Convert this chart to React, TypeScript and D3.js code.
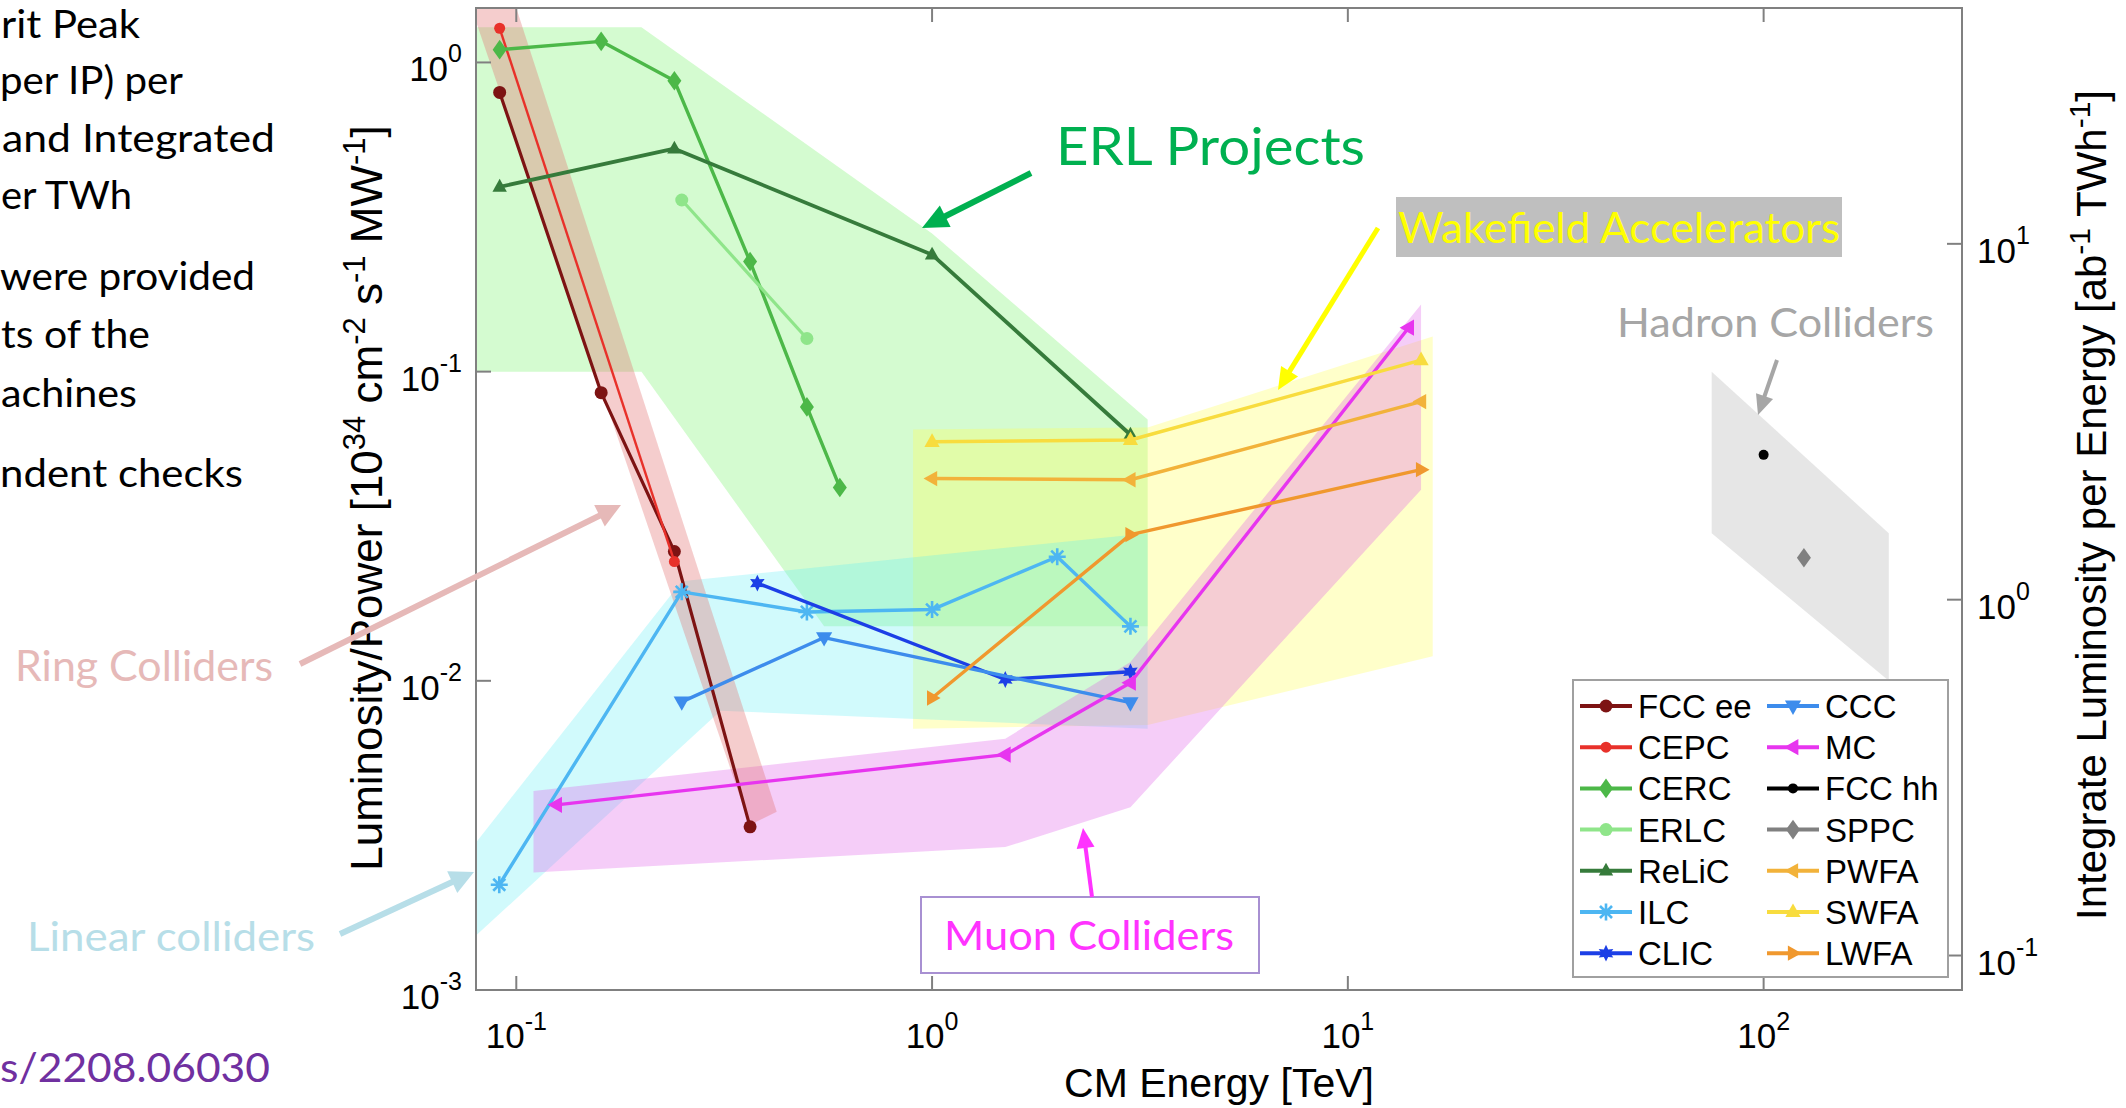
import React from 'react';
import * as d3 from 'd3';

// ---------------- data (CM energy [TeV], luminosity/power) ----------------
const FCC_EE = [[0.0912, 0.8], [0.16, 0.0855], [0.24, 0.0262], [0.365, 0.00337]];
const CEPC = [[0.0912, 1.29], [0.24, 0.0243]];
const CERC = [[0.0912, 1.1], [0.16, 1.17], [0.24, 0.873], [0.365, 0.227], [0.5, 0.0769], [0.6, 0.0422]];
const ERLC = [[0.25, 0.359], [0.5, 0.128]];
const RELIC = [[0.0912, 0.396], [0.24, 0.526], [1, 0.239], [3, 0.0625]];
const ILC = [[0.091, 0.00219], [0.25, 0.0194], [0.5, 0.0167], [1, 0.017], [2, 0.0252], [3, 0.015]];
const CLIC = [[0.38, 0.0207], [1.5, 0.0101], [3, 0.0107]];
const CCC = [[0.25, 0.00855], [0.55, 0.0138], [3, 0.0085]];
const MC = [[0.125, 0.00397], [1.5, 0.00577], [3, 0.00986], [14, 0.1387]];
const FCC_HH = [[100, 0.0538]];
const SPPC = [[125, 0.025]];
const PWFA = [[1, 0.0451], [3, 0.0447], [15, 0.08]];
const SWFA = [[1, 0.0593], [3, 0.0601], [15, 0.109]];
const LWFA = [[1, 0.0088], [3, 0.0297], [15, 0.0482]];

// shaded groups (polygon vertices in data units)
const ERL_REGION = [[0.08, 1.3], [0.2, 1.3], [1.0, 0.28], [3.3, 0.07], [3.3, 0.015], [0.55, 0.015], [0.2, 0.1], [0.08, 0.1]];
const WAKE_REGION = [[0.9, 0.065], [3.3, 0.066], [16, 0.13], [16, 0.012], [3.3, 0.0072], [0.9, 0.007]];
const LINEAR_REGION = [[0.08, 0.003], [0.25, 0.021], [3.3, 0.03], [3.3, 0.007], [0.31, 0.008], [0.08, 0.0015]];
const MUON_REGION = [[0.11, 0.0044], [1.5, 0.0065], [3, 0.0115], [15, 0.165], [15, 0.0415], [3, 0.0039], [1.5, 0.0029], [0.11, 0.0024]];
const RING_REGION = [[0.078, 1.5], [0.1, 1.5], [0.423, 0.00377], [0.364, 0.00342]];
const HADRON_REGION = [[75, 0.1], [200, 0.03], [200, 0.01], [75, 0.03]];

const X_TICKS = [0.1, 1, 10, 100];
const Y_TICKS = [0.001, 0.01, 0.1, 1];
const Y2_TICKS = [0.1, 1, 10];

const SERIES_NAMES = ['FCC ee', 'CEPC', 'CERC', 'ERLC', 'ReLiC', 'ILC', 'CLIC', 'CCC', 'MC', 'FCC hh', 'SPPC', 'PWFA', 'SWFA', 'LWFA'];
const SERIES_DATA = [FCC_EE, CEPC, CERC, ERLC, RELIC, ILC, CLIC, CCC, MC, FCC_HH, SPPC, PWFA, SWFA, LWFA];

const NOTE_LINES = ['rit Peak', 'per IP) per', 'and Integrated', 'er TWh', 'were provided', 'ts of the', 'achines', 'ndent checks'];

// ---------------- styles ----------------
const SERIES_STYLE = [
  { color: '#7d1313', marker: 'circle', ms: 6.5, lw: 3.2 },
  { color: '#e8312a', marker: 'circle', ms: 5.5, lw: 2.4 },
  { color: '#4cb848', marker: 'diamond', ms: 7, lw: 3.4 },
  { color: '#8fe58a', marker: 'circle', ms: 6.5, lw: 3.2 },
  { color: '#367b3b', marker: 'triUp', ms: 8, lw: 3.8 },
  { color: '#4db6f2', marker: 'asterisk', ms: 8.5, lw: 3.4 },
  { color: '#1c3fe6', marker: 'hexagram', ms: 8, lw: 3.4 },
  { color: '#3d8cec', marker: 'triDown', ms: 9, lw: 3.4 },
  { color: '#e735ef', marker: 'triLeft', ms: 9, lw: 3.4 },
  { color: '#000000', marker: 'circle', ms: 5, lw: 3.4 },
  { color: '#808080', marker: 'diamond', ms: 7, lw: 3.4 },
  { color: '#f2b23a', marker: 'triLeft', ms: 8.5, lw: 3.4 },
  { color: '#f8dc3e', marker: 'triUp', ms: 8.5, lw: 3.4 },
  { color: '#f0982e', marker: 'triRight', ms: 8.5, lw: 3.4 },
];

const NOTE_LAYOUT = [
  { x: 1, y: 38, len: 139 },
  { x: 0, y: 94, len: 183 },
  { x: 2, y: 152, len: 273 },
  { x: 1, y: 209, len: 131 },
  { x: 0, y: 290, len: 255 },
  { x: 1, y: 348, len: 149 },
  { x: 1, y: 407, len: 136 },
  { x: 0, y: 487, len: 243 },
];

const PL = 476, PR = 1962, PT = 8, PB = 990;
const AX_FONT = '"Liberation Sans", Arial, Helvetica, sans-serif';
const ANN_FONT = 'Lato, "Open Sans", sans-serif';

function Marker({ kind, cx, cy, s, color }: any) {
  if (kind === 'circle') return <circle cx={cx} cy={cy} r={s} fill={color} />;
  if (kind === 'diamond') {
    const w = s, h = s * 1.4;
    return <path d={`M${cx},${cy - h}L${cx + w},${cy}L${cx},${cy + h}L${cx - w},${cy}Z`} fill={color} />;
  }
  if (kind.startsWith('tri')) {
    const rot = { triUp: 0, triDown: 180, triLeft: -90, triRight: 90 }[kind as string] as number;
    const d = `M0,${-s}L${0.9 * s},${0.6 * s}L${-0.9 * s},${0.6 * s}Z`;
    return <path d={d} fill={color} transform={`translate(${cx},${cy}) rotate(${rot})`} />;
  }
  if (kind === 'asterisk') {
    const p: string[] = [];
    for (let k = 0; k < 4; k++) {
      const a = (k * Math.PI) / 4;
      const dx = Math.cos(a) * s, dy = Math.sin(a) * s;
      p.push(`M${cx - dx},${cy - dy}L${cx + dx},${cy + dy}`);
    }
    return <path d={p.join('')} stroke={color} strokeWidth={2.6} fill="none" />;
  }
  if (kind === 'hexagram') {
    const pts: string[] = [];
    for (let k = 0; k < 12; k++) {
      const a = -Math.PI / 2 + (k * Math.PI) / 6;
      const r = k % 2 === 0 ? s * 1.05 : s * 0.55;
      pts.push(`${cx + Math.cos(a) * r},${cy + Math.sin(a) * r}`);
    }
    return <path d={'M' + pts.join('L') + 'Z'} fill={color} />;
  }
  return null;
}

function Arrow({ x1, y1, x2, y2, color, w, L, hw }: any) {
  const dx = x2 - x1, dy = y2 - y1;
  const len = Math.hypot(dx, dy);
  const ux = dx / len, uy = dy / len;
  const nx = -uy, ny = ux;
  const bx = x2 - ux * L, by = y2 - uy * L;
  return (
    <g>
      <line x1={x1} y1={y1} x2={x2 - ux * L * 0.7} y2={y2 - uy * L * 0.7} stroke={color} strokeWidth={w} />
      <path d={`M${x2},${y2}L${bx + nx * hw},${by + ny * hw}L${bx - nx * hw},${by - ny * hw}Z`} fill={color} />
    </g>
  );
}

export default function App() {
  const x = d3.scaleLog().domain([0.08, 300]).range([PL, PR]);
  const y = d3.scaleLog().domain([1e-3, 1.5]).range([PB, PT]);
  const y2 = d3.scaleLog().domain([0.08, 46]).range([PB, PT]);
  const line = d3.line<number[]>().x((d) => x(d[0])).y((d) => y(d[1]));
  const poly = (pts: number[][]) => 'M' + pts.map((p) => `${x(p[0])},${y(p[1])}`).join('L') + 'Z';

  const regions = [
    { pts: ERL_REGION, fill: 'rgb(112,242,98)', op: 0.3 },
    { pts: WAKE_REGION, fill: 'rgb(255,255,80)', op: 0.3 },
    { pts: LINEAR_REGION, fill: 'rgb(90,236,245)', op: 0.28 },
    { pts: MUON_REGION, fill: 'rgb(222,88,232)', op: 0.3 },
    { pts: RING_REGION, fill: 'rgb(226,112,112)', op: 0.35 },
    { pts: HADRON_REGION, fill: 'rgb(128,128,128)', op: 0.2 },
  ];

  const exp = (v: number) => String(Math.round(Math.log10(v)));

  const legX = [1580, 1767];
  const legY0 = 706, legDY = 41.2;

  return (
    <svg width={2126} height={1108} style={{ position: 'absolute', left: 0, top: 0, display: 'block', background: '#fff' }}>
      <defs>
        <clipPath id="plotclip">
          <rect x={PL} y={PT} width={PR - PL} height={PB - PT} />
        </clipPath>
      </defs>
      <rect x={0} y={0} width={2126} height={1108} fill="#fff" />

      {/* left slide text */}
      {NOTE_LINES.map((t, i) => (
        <text key={i} x={NOTE_LAYOUT[i].x} y={NOTE_LAYOUT[i].y} fontFamily={ANN_FONT} fontSize={38} fill="#000"
          textLength={NOTE_LAYOUT[i].len} lengthAdjust="spacingAndGlyphs">{t}</text>
      ))}
      <text x={0} y={1082} fontFamily={ANN_FONT} fontSize={41} fill="#7030a0" textLength={270} lengthAdjust="spacingAndGlyphs">s/2208.06030</text>

      {/* regions */}
      <g clipPath="url(#plotclip)">
        {regions.map((r, i) => (
          <path key={i} d={poly(r.pts)} fill={r.fill} fillOpacity={r.op} stroke="none" />
        ))}
      </g>

      {/* axes box */}
      <g stroke="#808080" strokeWidth={2} fill="none">
        <rect x={PL} y={PT} width={PR - PL} height={PB - PT} />
        {X_TICKS.map((t) => (
          <g key={'xt' + t}>
            <line x1={x(t)} x2={x(t)} y1={PB} y2={PB - 14} />
            <line x1={x(t)} x2={x(t)} y1={PT} y2={PT + 14} />
          </g>
        ))}
        {Y_TICKS.map((t) => (
          <line key={'yt' + t} x1={PL} x2={PL + 15} y1={y(t)} y2={y(t)} />
        ))}
        {Y2_TICKS.map((t) => (
          <line key={'y2t' + t} x1={PR} x2={PR - 15} y1={y2(t)} y2={y2(t)} />
        ))}
      </g>

      {/* tick labels */}
      <g fontFamily={AX_FONT} fill="#000">
        {X_TICKS.map((t) => (
          <text key={'xl' + t} x={x(t)} y={1048} fontSize={35} textAnchor="middle">
            10<tspan dy={-18} fontSize={25}>{exp(t)}</tspan>
          </text>
        ))}
        {Y_TICKS.map((t) => (
          <text key={'yl' + t} x={462} y={y(t) + 19} fontSize={35} textAnchor="end">
            10<tspan dy={-19} fontSize={25}>{exp(t)}</tspan>
          </text>
        ))}
        {Y2_TICKS.map((t) => (
          <text key={'y2l' + t} x={1977} y={y2(t) + 19} fontSize={35} textAnchor="start">
            10<tspan dy={-19} fontSize={25}>{exp(t)}</tspan>
          </text>
        ))}
      </g>

      {/* axis titles */}
      <text x={(PL + PR) / 2} y={1097} fontFamily={AX_FONT} fontSize={41} textAnchor="middle" fill="#000">CM Energy [TeV]</text>
      <text transform={`translate(382,498) rotate(-90)`} fontFamily={AX_FONT} fontSize={44} textAnchor="middle" fill="#000">
        Luminosity/Power [10<tspan dy={-17} fontSize={31}>34</tspan>
        <tspan dy={17}>{' cm'}</tspan><tspan dy={-17} fontSize={31}>-2</tspan>
        <tspan dy={17}>{' s'}</tspan><tspan dy={-17} fontSize={31}>-1</tspan>
        <tspan dy={17}>{' MW'}</tspan><tspan dy={-17} fontSize={31}>-1</tspan>
        <tspan dy={17}>]</tspan>
      </text>
      <text transform={`translate(2106,505) rotate(-90)`} fontFamily={AX_FONT} fontSize={42} textAnchor="middle" fill="#000">
        Integrate Luminosity per Energy [ab<tspan dy={-16} fontSize={30}>-1</tspan>
        <tspan dy={16}>{' TWh'}</tspan><tspan dy={-16} fontSize={30}>-1</tspan>
        <tspan dy={16}>]</tspan>
      </text>

      {/* series */}
      <g clipPath="url(#plotclip)">
        {SERIES_DATA.map((data, i) => {
          const st = SERIES_STYLE[i];
          return (
            <g key={SERIES_NAMES[i]}>
              {data.length > 1 && (
                <path d={line(data) as string} fill="none" stroke={st.color} strokeWidth={st.lw} strokeLinejoin="round" />
              )}
              {data.map((d, j) => (
                <Marker key={j} kind={st.marker} cx={x(d[0])} cy={y(d[1])} s={st.ms} color={st.color} />
              ))}
            </g>
          );
        })}
      </g>

      {/* legend */}
      <rect x={1573} y={680} width={375} height={297} fill="#fff" stroke="#a0a0a0" strokeWidth={2} />
      {SERIES_NAMES.map((name, i) => {
        const col = Math.floor(i / 7), row = i % 7;
        const lx = legX[col], ly = legY0 + row * legDY;
        const st = SERIES_STYLE[i];
        return (
          <g key={'lg' + name}>
            <line x1={lx} x2={lx + 52} y1={ly} y2={ly} stroke={st.color} strokeWidth={4} />
            <Marker kind={st.marker} cx={lx + 26} cy={ly} s={st.ms} color={st.color} />
            <text x={lx + 58} y={ly + 12} fontFamily={AX_FONT} fontSize={33} fill="#000">{name}</text>
          </g>
        );
      })}

      {/* annotations */}
      <text x={1056} y={165} fontFamily={ANN_FONT} fontSize={53} fill="#00b050" textLength={309} lengthAdjust="spacingAndGlyphs">ERL Projects</text>
      <Arrow x1={1031} y1={173} x2={922} y2={228} color="#00b050" w={6} L={26} hw={12} />

      <rect x={1396} y={197} width={446} height={60} fill="#bfbfbf" />
      <text x={1398} y={243} fontFamily={ANN_FONT} fontSize={43} fill="#ffff00" textLength={442} lengthAdjust="spacingAndGlyphs">Wakefield Accelerators</text>
      <Arrow x1={1378} y1={228} x2={1278} y2={390} color="#ffff00" w={5} L={22} hw={10} />

      <text x={1617} y={337} fontFamily={ANN_FONT} fontSize={40} fill="#a6a6a6" textLength={317} lengthAdjust="spacingAndGlyphs">Hadron Colliders</text>
      <Arrow x1={1777} y1={360} x2={1758} y2={415} color="#a6a6a6" w={4} L={20} hw={9} />

      <rect x={921} y={897} width={338} height={76} fill="#fff" stroke="#a890d2" strokeWidth={2} />
      <text x={944} y={950} fontFamily={ANN_FONT} fontSize={40} fill="#ff33ff" textLength={290} lengthAdjust="spacingAndGlyphs">Muon Colliders</text>
      <Arrow x1={1092} y1={897} x2={1083} y2={828} color="#ff33ff" w={4} L={20} hw={9} />

      <text x={15} y={681} fontFamily={ANN_FONT} fontSize={42} fill="#e6b9b8" textLength={258} lengthAdjust="spacingAndGlyphs">Ring Colliders</text>
      <Arrow x1={300} y1={664} x2={621} y2={505} color="#e6b9b8" w={6} L={24} hw={12} />

      <text x={27} y={951} fontFamily={ANN_FONT} fontSize={41} fill="#b7dee8" textLength={288} lengthAdjust="spacingAndGlyphs">Linear colliders</text>
      <Arrow x1={340} y1={934} x2={474} y2={872} color="#b7dee8" w={6} L={24} hw={12} />
    </svg>
  );
}
